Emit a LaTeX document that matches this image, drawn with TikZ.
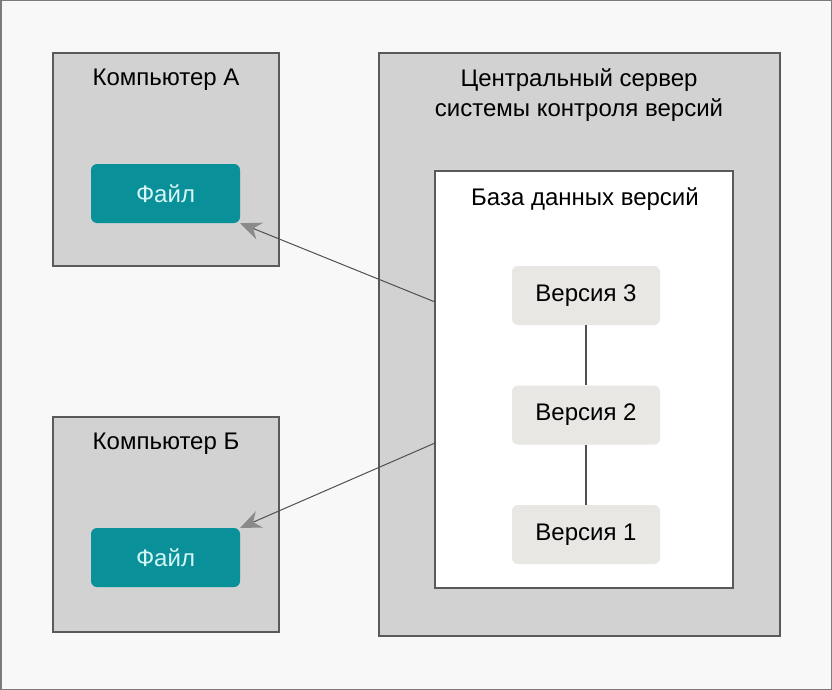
\documentclass[tikz,border=0pt]{standalone}
\usepackage{fontspec}
\setmainfont{Liberation Sans}
\usetikzlibrary{arrows.meta}
\definecolor{bg}{HTML}{F8F8F8}
\definecolor{boxgray}{HTML}{D3D2D2}
\definecolor{edge}{HTML}{5A5A5A}
\definecolor{teal}{HTML}{0A9099}
\definecolor{tealtext}{HTML}{D6F6F6}
\definecolor{vergray}{HTML}{E8E7E4}
\definecolor{arrowgray}{HTML}{8A8A8A}
\definecolor{linegray}{HTML}{505050}
\begin{document}
\begin{tikzpicture}[x=1pt,y=-1pt,
  font=\fontsize{24}{29}\selectfont,
  panel/.style={draw=edge,line width=1.5pt,fill=boxgray,rectangle,inner sep=0pt},
  filebox/.style={fill=teal,rounded corners=6pt,minimum width=149pt,minimum height=59pt,inner sep=0pt,text=tealtext},
  verbox/.style={fill=vergray,rounded corners=6pt,minimum width=148pt,minimum height=59pt,inner sep=0pt,text=black},
  lbl/.style={inner sep=0pt,text=black,align=center},
  conn/.style={draw=linegray,line width=1pt,-{Stealth[length=21pt,width=18pt,inset=7pt,color=arrowgray]}},
  vline/.style={draw=linegray,line width=1.2pt}]
\useasboundingbox (0,0) rectangle (832,690);
\fill[bg] (0,0) rectangle (832,690);
\draw[draw=edge!80,line width=1.5pt] (0.75,0.75) rectangle (831.25,689.25);
% panels
\node[panel,minimum width=226pt,minimum height=213pt] (ca) at (166,159.5) {};
\node[panel,minimum width=226pt,minimum height=215pt] (cb) at (166,524.5) {};
\node[panel,minimum width=401pt,minimum height=583pt] (srv) at (579.5,344.5) {};
\node[draw=edge,line width=1.5pt,fill=white,inner sep=0pt,minimum width=298pt,minimum height=417pt] (db) at (584,379.5) {};
% labels
\node[lbl] (la) at (166,80) {Компьютер А};
\node[lbl] (lb) at (166,444) {Компьютер Б};
\node[lbl] (ls1) at (579,80) {Центральный сервер};
\node[lbl] (ls2) at (579,110) {системы контроля версий};
\node[lbl] (ldb) at (585,199) {База данных версий};
% files
\node[filebox] (fa) at (165.5,193.5) {Файл};
\node[filebox] (fb) at (165.5,557.5) {Файл};
% versions
\node[verbox] (v3) at (586,295.5) {Версия 3};
\node[verbox] (v2) at (586,415) {Версия 2};
\node[verbox] (v1) at (586,534.5) {Версия 1};
\draw[vline] (v3) -- (v2);
\draw[vline] (v2) -- (v1);
% arrows
\coordinate (s1) at (435,302);
\coordinate (s2) at (435,443);
\draw[conn] (s1) -- (fa.south east);
\draw[conn] (s2) -- (fb.north east);
\end{tikzpicture}
\end{document}
